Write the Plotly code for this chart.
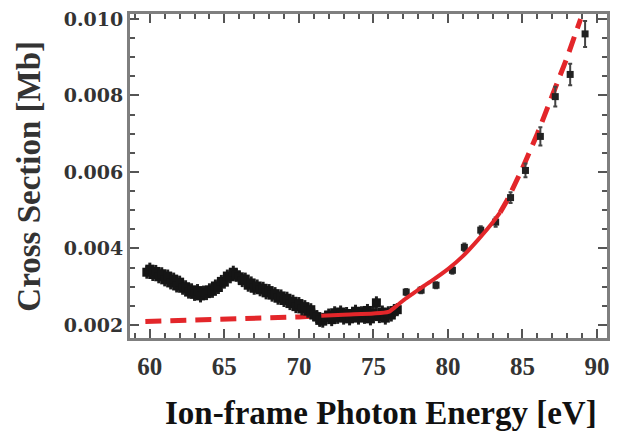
import plotly.graph_objects as go

# Dense measurement region (ion-frame photon energy [eV], cross section [Mb])
dense_E = [59.8, 60.0, 60.2, 60.4, 60.6, 60.8, 61.0, 61.2, 61.4, 61.6, 61.8, 62.0,
           62.2, 62.4, 62.6, 62.8, 63.0, 63.2, 63.4, 63.6, 63.8, 64.0, 64.2, 64.4,
           64.6, 64.8, 65.0, 65.2, 65.4, 65.6, 65.8, 66.0, 66.2, 66.4, 66.6, 66.8,
           67.0, 67.2, 67.4, 67.6, 67.8, 68.0, 68.2, 68.4, 68.6, 68.8, 69.0, 69.2,
           69.4, 69.6, 69.8, 70.0, 70.2, 70.4, 70.6, 70.8, 71.0, 71.2, 71.4, 71.6,
           71.8, 72.0, 72.2, 72.4, 72.6, 72.8, 73.0, 73.2, 73.4, 73.6, 73.8, 74.0,
           74.2, 74.4, 74.6, 74.8, 75.0, 75.2, 75.4, 75.6, 75.8, 76.0, 76.2, 76.4, 76.6]
dense_sigma = [0.00338, 0.00346, 0.00332, 0.00340, 0.00326, 0.00334, 0.00318, 0.00328,
               0.00310, 0.00320, 0.00302, 0.00312, 0.00296, 0.00300, 0.00286, 0.00292,
               0.00280, 0.00290, 0.00276, 0.00286, 0.00282, 0.00292, 0.00288, 0.00302,
               0.00298, 0.00314, 0.00312, 0.00328, 0.00326, 0.00338, 0.00330, 0.00326,
               0.00316, 0.00320, 0.00304, 0.00310, 0.00296, 0.00302, 0.00292, 0.00296,
               0.00284, 0.00290, 0.00278, 0.00282, 0.00270, 0.00276, 0.00264, 0.00270,
               0.00256, 0.00262, 0.00248, 0.00256, 0.00242, 0.00248, 0.00236, 0.00240,
               0.00226, 0.00222, 0.00212, 0.00210, 0.00220, 0.00226, 0.00214, 0.00232,
               0.00220, 0.00234, 0.00218, 0.00230, 0.00216, 0.00228, 0.00236, 0.00218,
               0.00232, 0.00220, 0.00238, 0.00216, 0.00230, 0.00258, 0.00222, 0.00234,
               0.00218, 0.00232, 0.00226, 0.00238, 0.00240]
dense_err = 0.00017

# Sparse measurement region
sparse_E = [77.2, 78.2, 79.2, 80.3, 81.1, 82.2, 83.2, 84.2, 85.2, 86.2, 87.2, 88.2, 89.2]
sparse_sigma = [0.00286, 0.00291, 0.00304, 0.00343, 0.00403, 0.00448, 0.00469,
                0.00533, 0.00604, 0.00693, 0.00797, 0.00855, 0.00961]
sparse_err = [0.00008, 0.00008, 0.00008, 0.00009, 0.00010, 0.00010, 0.00012,
              0.00014, 0.00018, 0.00024, 0.00026, 0.00028, 0.00034]

# Fit curve: dashed extrapolation (low), solid fitted range, dashed extrapolation (high)
fit_low_E = [59.7, 62.0, 64.0, 66.0, 68.0, 70.0, 71.5]
fit_low_sigma = [0.00209, 0.00211, 0.00213, 0.00216, 0.00218, 0.00221, 0.00224]
fit_mid_E = [71.5, 73.0, 75.0, 76.0, 76.5, 77.0, 77.5, 78.0, 78.5, 79.0, 80.0, 81.0,
             82.0, 83.0, 83.5]
fit_mid_sigma = [0.00224, 0.00227, 0.00230, 0.00234, 0.00248, 0.00264, 0.00278, 0.00292,
                 0.00305, 0.00318, 0.00346, 0.00380, 0.00422, 0.00468, 0.00494]
fit_high_E = [83.5, 84.0, 85.0, 86.0, 87.0, 88.0, 88.9]
fit_high_sigma = [0.00494, 0.00528, 0.00610, 0.00700, 0.00800, 0.00900, 0.01000]

x_ticks = [60, 65, 70, 75, 80, 85, 90]
y_ticks = [0.002, 0.004, 0.006, 0.008, 0.010]
y_tick_text = ["0.002", "0.004", "0.006", "0.008", "0.010"]

RED = "#e3262a"
fig = go.Figure()

fig.add_trace(go.Scatter(x=fit_low_E, y=fit_low_sigma, mode="lines",
                         line=dict(color=RED, width=5, dash="16px,9px"), showlegend=False))
fig.add_trace(go.Scatter(x=fit_high_E, y=fit_high_sigma, mode="lines",
                         line=dict(color=RED, width=5, dash="16px,9px"), showlegend=False))

fig.add_trace(go.Scatter(
    x=dense_E, y=dense_sigma, mode="markers",
    marker=dict(symbol="square", size=9, color="#151515"),
    error_y=dict(type="constant", value=dense_err, color="#1e1e1e", thickness=3, width=0),
    showlegend=False))
fig.add_trace(go.Scatter(
    x=sparse_E, y=sparse_sigma, mode="markers",
    marker=dict(symbol="square", size=7, color="#222222"),
    error_y=dict(type="data", array=sparse_err, color="#444444", thickness=2, width=2),
    showlegend=False))

fig.add_trace(go.Scatter(x=fit_mid_E, y=fit_mid_sigma, mode="lines",
                         line=dict(color=RED, width=4, shape="spline", smoothing=0.6),
                         showlegend=False))

axis_common = dict(
    showline=True, linecolor="#7f7f7f", linewidth=3, mirror="allticks",
    ticks="inside", tickcolor="#555555", tickwidth=2, ticklen=9,
    showgrid=False, zeroline=False,
)

fig.update_xaxes(range=[58.67, 90.67], tickvals=x_ticks, ticklabelstandoff=4,
                 tickfont=dict(family="Liberation Serif", size=25, color="#333333", weight="bold"),
                 minor=dict(dtick=1, ticklen=5, tickcolor="#555555", tickwidth=2, ticks="inside"),
                 **axis_common)
fig.update_yaxes(range=[0.00166, 0.01013], tickvals=y_ticks, ticktext=y_tick_text,
                 tickfont=dict(family="DejaVu Serif", size=19, color="#333333", weight="bold"),
                 minor=dict(dtick=0.0005, ticklen=5, tickcolor="#555555", tickwidth=2, ticks="inside"),
                 **axis_common)

fig.add_annotation(text="<b>Ion-frame Photon Energy [eV]</b>", xref="paper", yref="paper",
                   x=(383 - 130) / 480, y=-(413 - 338) / 325, showarrow=False,
                   font=dict(family="Liberation Serif", size=33, color="#111111"),
                   xanchor="center", yanchor="middle")
fig.add_annotation(text="<b>Cross Section [Mb]</b>", xref="paper", yref="paper",
                   x=-(130 - 28) / 480, y=0.5, showarrow=False, textangle=-90,
                   font=dict(family="Liberation Serif", size=33, color="#333333"),
                   xanchor="center", yanchor="middle")

fig.update_layout(width=618, height=438, margin=dict(l=130, r=8, t=13, b=100),
                  paper_bgcolor="white", plot_bgcolor="white",
                  font=dict(family="Liberation Serif"))

fig.write_html("out.html")
